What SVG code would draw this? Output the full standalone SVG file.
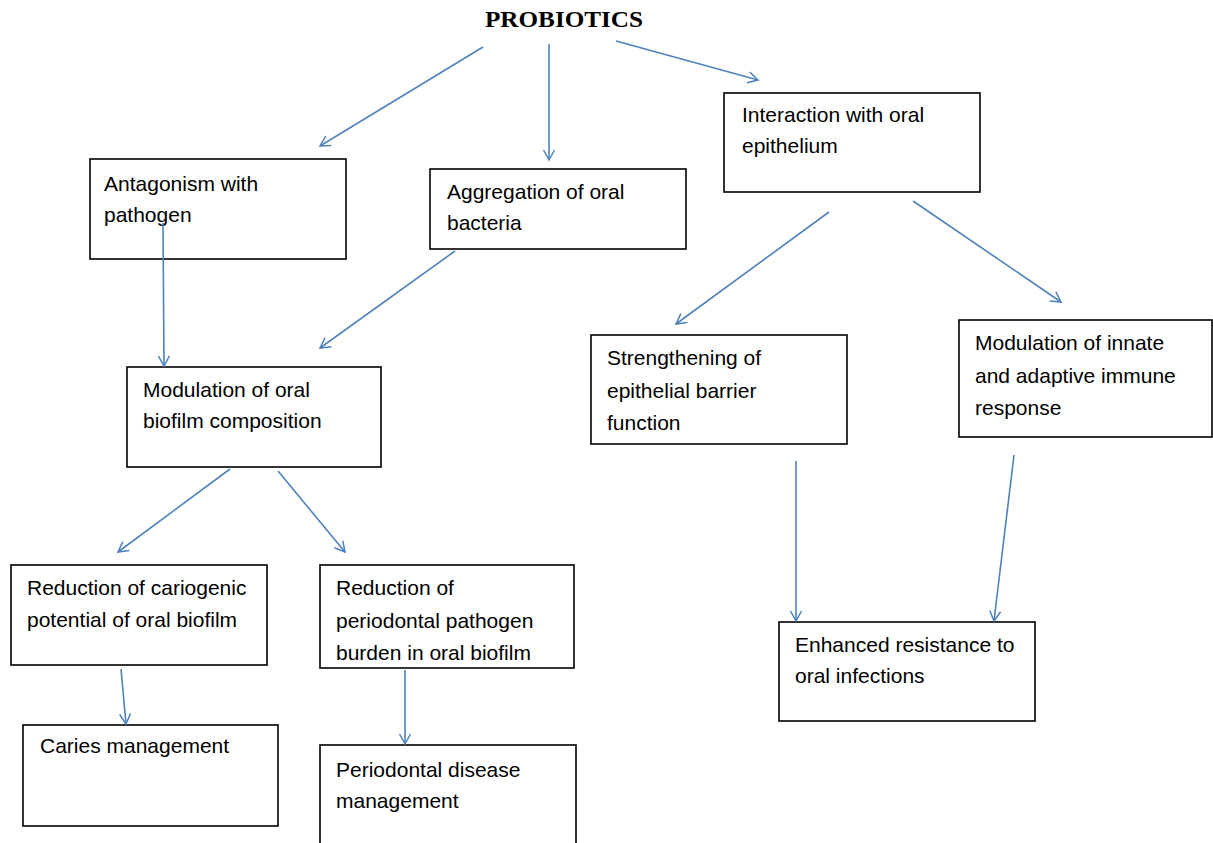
<svg xmlns="http://www.w3.org/2000/svg" width="1213" height="843" viewBox="0 0 1213 843">
<defs>
<marker id="ah" markerWidth="14" markerHeight="14" refX="11" refY="7" orient="auto" markerUnits="userSpaceOnUse">
<path d="M1,1.5 L11,7 L1,12.5" fill="none" stroke="#4F81BD" stroke-width="1.5"/>
</marker>
</defs>
<style>
.box{fill:#fff;stroke:#000;stroke-width:1.6}
.t{font-family:"Liberation Sans",Arial,sans-serif;font-size:21px;fill:#000}
.c{stroke:#4F81BD;stroke-width:1.6;fill:none;marker-end:url(#ah)}
.title{font-family:"Liberation Serif","Times New Roman",serif;font-size:24px;font-weight:bold;fill:#000}
</style>
<rect width="1213" height="843" fill="#fff"/>
<g id="title"><text class="title" x="485" y="27" textLength="158" lengthAdjust="spacingAndGlyphs">PROBIOTICS</text></g>
<g id="antagonism"><rect class="box" x="90" y="159" width="256" height="100"/><text class="t" x="104" y="191">Antagonism with</text><text class="t" x="104" y="222">pathogen</text></g>
<g id="aggregation"><rect class="box" x="430" y="169" width="256" height="80"/><text class="t" x="447" y="199">Aggregation of oral</text><text class="t" x="447" y="230">bacteria</text></g>
<g id="interaction"><rect class="box" x="724" y="93" width="256" height="99"/><text class="t" x="742" y="122">Interaction with oral</text><text class="t" x="742" y="153">epithelium</text></g>
<g id="modbiofilm"><rect class="box" x="127" y="367" width="254" height="100"/><text class="t" x="143" y="397">Modulation of oral</text><text class="t" x="143" y="428">biofilm composition</text></g>
<g id="strengthening"><rect class="box" x="591" y="335" width="256" height="109"/><text class="t" x="607" y="365">Strengthening of</text><text class="t" x="607" y="398">epithelial barrier</text><text class="t" x="607" y="430">function</text></g>
<g id="immune"><rect class="box" x="959" y="320" width="253" height="117"/><text class="t" x="975" y="350">Modulation of innate</text><text class="t" x="975" y="383">and adaptive immune</text><text class="t" x="975" y="415">response</text></g>
<g id="cariogenic"><rect class="box" x="11" y="565" width="256" height="100"/><text class="t" x="27" y="595">Reduction of cariogenic</text><text class="t" x="27" y="627">potential of oral biofilm</text></g>
<g id="periodontal"><rect class="box" x="320" y="565" width="254" height="103"/><text class="t" x="336" y="595">Reduction of</text><text class="t" x="336" y="628">periodontal pathogen</text><text class="t" x="336" y="660">burden in oral biofilm</text></g>
<g id="caries"><rect class="box" x="23" y="725" width="255" height="101"/><text class="t" x="40" y="753">Caries management</text></g>
<g id="perio-disease"><rect class="box" x="320" y="745" width="256" height="105"/><text class="t" x="336" y="777">Periodontal disease</text><text class="t" x="336" y="808">management</text></g>
<g id="resistance"><rect class="box" x="779" y="622" width="256" height="99"/><text class="t" x="795" y="652">Enhanced resistance to</text><text class="t" x="795" y="683">oral infections</text></g>
<g id="connectors">
<line class="c" x1="483" y1="47" x2="320" y2="146"/>
<line class="c" x1="549" y1="44" x2="549" y2="160"/>
<line class="c" x1="616" y1="41" x2="758" y2="80"/>
<line class="c" x1="163" y1="223" x2="164" y2="366"/>
<line class="c" x1="455" y1="251" x2="320" y2="348"/>
<line class="c" x1="230" y1="469" x2="118" y2="552"/>
<line class="c" x1="278" y1="471" x2="345" y2="552"/>
<line class="c" x1="121" y1="669" x2="126" y2="724"/>
<line class="c" x1="405" y1="670" x2="405" y2="744"/>
<line class="c" x1="829" y1="212" x2="676" y2="324"/>
<line class="c" x1="913" y1="201" x2="1061" y2="302"/>
<line class="c" x1="796" y1="461" x2="796" y2="621"/>
<line class="c" x1="1014" y1="455" x2="994" y2="621"/>
</g>
</svg>
